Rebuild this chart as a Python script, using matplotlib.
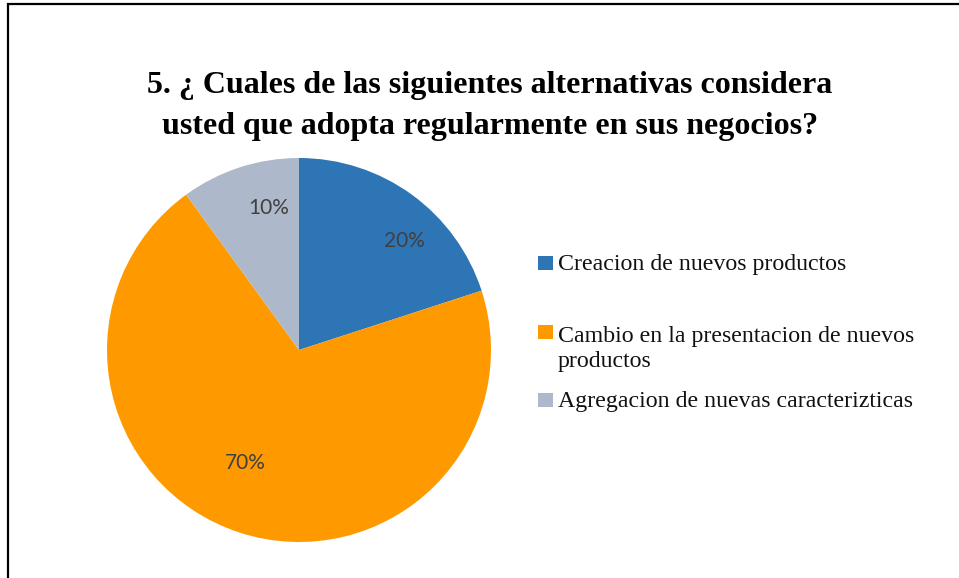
import matplotlib
matplotlib.use('Agg')
import matplotlib.pyplot as plt
from matplotlib.patches import Rectangle

TITLE = "5. ¿ Cuales de las siguientes alternativas considera\nusted que adopta regularmente en sus negocios?"
categories = ["Creacion de nuevos productos",
              "Cambio en la presentacion de nuevos\nproductos",
              "Agregacion de nuevas caracterizticas"]
shares = [20, 70, 10]
colors = ["#2E75B6", "#FF9900", "#ADB9CA"]

W, H = 959, 578
fig = plt.figure(figsize=(W / 100, H / 100), dpi=100, facecolor="white")

# pie axes: centre (299, 350) px, radius 192 px
cx, cy, r = 299, 350, 192
ax = fig.add_axes([(cx - r) / W, (H - cy - r) / H, 2 * r / W, 2 * r / H])
wedges, texts, autotexts = ax.pie(shares, colors=colors, startangle=90, counterclock=False,
                                  autopct="%d%%", pctdistance=0.75, radius=1,
                                  wedgeprops=dict(linewidth=0))
ax.set_xlim(-1, 1)
ax.set_ylim(-1, 1)
ax.set_aspect("equal")
ax.axis("off")

# label placement similar to the Excel layout
label_pos = [(0.55, 0.57), (-0.28, -0.59), (-0.16, 0.74)]
for t, p in zip(autotexts, label_pos):
    t.set_position(p)
    t.set_fontfamily(["Lato", "DejaVu Sans"])
    t.set_fontsize(15)
    t.set_color("#404040")
    t.set_ha("center")
    t.set_va("center")

fig.text(490 / W, 1 - 106 / H, TITLE, ha="center", va="center",
         fontfamily="Liberation Serif", fontweight="bold", fontsize=23, linespacing=1.53)

# legend, drawn by hand (multi-line entry aligned on its first line)
leg_base = [270, 339, 407]
line_h = 28
for lab, col, y in zip(categories, colors, leg_base):
    fig.patches.append(Rectangle((538 / W, 1 - y / H), 15 / W, 14 / H,
                                 transform=fig.transFigure, facecolor=col, edgecolor="none"))
    last = y + line_h * lab.count("\n")   # baseline alignment uses the last line
    fig.text(558 / W, 1 - last / H, lab, ha="left", va="baseline",
             fontfamily="Liberation Serif", fontsize=17.2, linespacing=1.22, color="#111111")

# chart frame (only left and top edges visible in the crop)
fig.patches.append(Rectangle((8 / W, -0.1), 1.2, 1.1 - 4 / H, transform=fig.transFigure,
                             fill=False, edgecolor="black", linewidth=1.6))

fig.savefig("out.png", dpi=100, facecolor="white")
